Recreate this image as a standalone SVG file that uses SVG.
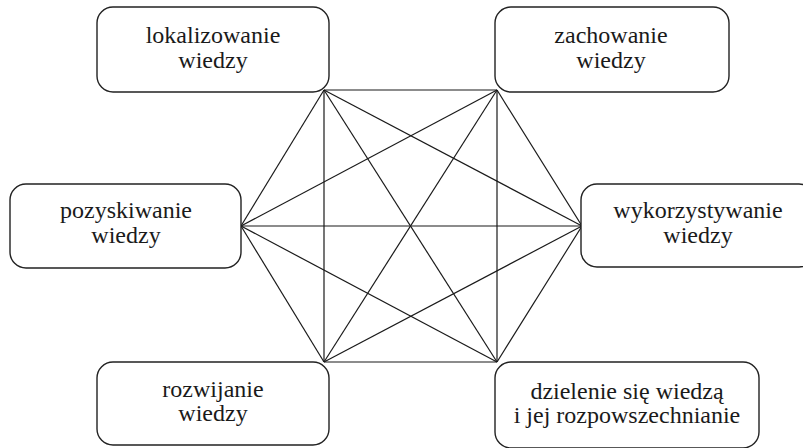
<svg xmlns="http://www.w3.org/2000/svg" width="803" height="448" viewBox="0 0 803 448">
  <rect width="803" height="448" fill="#ffffff"/>

  <!-- complete graph between the six corner points -->
  <g id="connectors" stroke="#1a1a1a" stroke-width="1.2" fill="none">
    <!-- hexagon outline -->
    <line x1="324" y1="90" x2="497" y2="90"/>
    <line x1="497" y1="90" x2="582" y2="226"/>
    <line x1="582" y1="226" x2="497" y2="362"/>
    <line x1="497" y1="362" x2="324" y2="362"/>
    <line x1="324" y1="362" x2="241" y2="226"/>
    <line x1="241" y1="226" x2="324" y2="90"/>
    <!-- diagonals -->
    <line x1="324" y1="90" x2="582" y2="226"/>
    <line x1="324" y1="90" x2="497" y2="362"/>
    <line x1="324" y1="90" x2="324" y2="362"/>
    <line x1="497" y1="90" x2="497" y2="362"/>
    <line x1="497" y1="90" x2="324" y2="362"/>
    <line x1="497" y1="90" x2="241" y2="226"/>
    <line x1="582" y1="226" x2="324" y2="362"/>
    <line x1="582" y1="226" x2="241" y2="226"/>
    <line x1="497" y1="362" x2="241" y2="226"/>
  </g>

  <!-- rounded label boxes; shared look set on the parent group -->
  <g fill="#ffffff" stroke="#222222" stroke-width="1.4">
    <rect id="box-lokalizowanie" x="97" y="7" width="232" height="85" rx="16"/>
    <rect id="box-zachowanie" x="495" y="7" width="234" height="85" rx="16"/>
    <rect id="box-pozyskiwanie" x="10" y="184" width="231" height="84" rx="16"/>
    <rect id="box-wykorzystywanie" x="581" y="184" width="234" height="83" rx="16"/>
    <rect id="box-rozwijanie" x="97" y="362" width="232" height="83" rx="16"/>
    <rect id="box-dzielenie" x="495" y="362" width="264" height="86" rx="16"/>
  </g>

  <g fill="#1a1a1a" text-anchor="middle">
    <g id="lokalizowanie">
      <text font-family="Liberation Serif" font-size="24" x="213" y="43">lokalizowanie</text>
      <text font-family="Liberation Serif" font-size="24" x="213" y="68">wiedzy</text>
    </g>
    <g id="zachowanie">
      <text font-family="Liberation Serif" font-size="24" x="611" y="43">zachowanie</text>
      <text font-family="Liberation Serif" font-size="24" x="611" y="68">wiedzy</text>
    </g>
    <g id="pozyskiwanie">
      <text font-family="Liberation Serif" font-size="24" x="126" y="218">pozyskiwanie</text>
      <text font-family="Liberation Serif" font-size="24" x="126" y="243">wiedzy</text>
    </g>
    <g id="wykorzystywanie">
      <text font-family="Liberation Serif" font-size="24" x="698" y="218">wykorzystywanie</text>
      <text font-family="Liberation Serif" font-size="24" x="698" y="243">wiedzy</text>
    </g>
    <g id="rozwijanie">
      <text font-family="Liberation Serif" font-size="24" x="213" y="397">rozwijanie</text>
      <text font-family="Liberation Serif" font-size="24" x="213" y="421">wiedzy</text>
    </g>
    <g id="dzielenie">
      <text font-family="Liberation Serif" font-size="24" x="627" y="399">dzielenie si&#281; wiedz&#261;</text>
      <text font-family="Liberation Serif" font-size="24" x="627" y="423">i jej rozpowszechnianie</text>
    </g>
  </g>
</svg>
